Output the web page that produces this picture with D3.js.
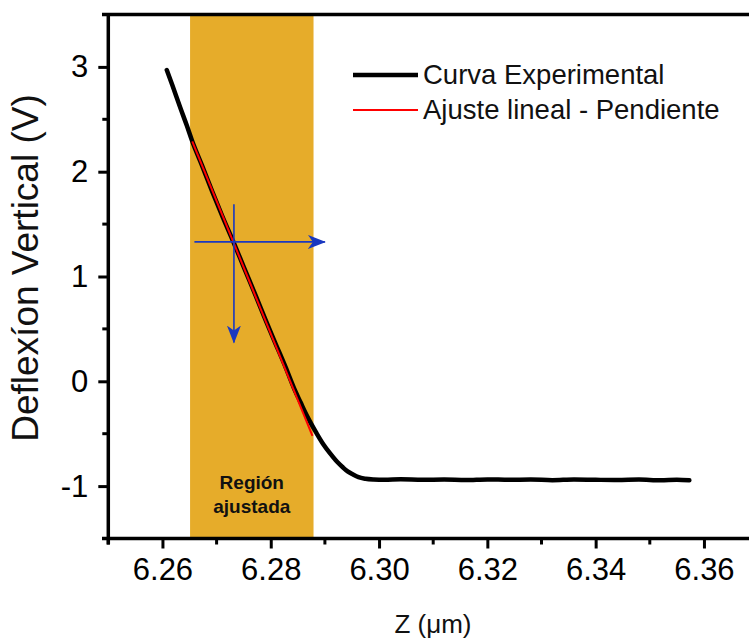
<!DOCTYPE html>
<html>
<head>
<meta charset="utf-8">
<script src="https://cdn.jsdelivr.net/npm/d3@7/dist/d3.min.js"></script>
<style>
  html, body { margin: 0; padding: 0; background: #ffffff; }
  svg { display: block; font-family: "Liberation Sans", Arial, sans-serif; }
</style>
</head>
<body>
<svg id="chart" width="749" height="639"></svg>
<script>
// ---- Data ----
const curveZ = [6.2608, 6.2618, 6.2633, 6.2645, 6.2655, 6.2673, 6.2692, 6.2711, 6.2731, 6.2751,
  6.2772, 6.2790, 6.2808, 6.2827, 6.2845, 6.2855, 6.2864, 6.2873, 6.2884, 6.2897, 6.2910,
  6.2923, 6.2933, 6.2942, 6.2952, 6.2962, 6.2975, 6.2990, 6.3010, 6.3040, 6.3080, 6.3120,
  6.3160, 6.3200, 6.3240, 6.3280, 6.3320, 6.3360, 6.3400, 6.3440, 6.3480, 6.3520, 6.3550, 6.3573];
const curveV = [2.97, 2.83, 2.61, 2.44, 2.29, 2.06, 1.81, 1.57, 1.33, 1.08,
  0.82, 0.59, 0.37, 0.14, -0.09, -0.20, -0.30, -0.39, -0.49, -0.60, -0.69,
  -0.77, -0.82, -0.86, -0.89, -0.915, -0.93, -0.937, -0.94, -0.935, -0.94, -0.938,
  -0.942, -0.936, -0.94, -0.938, -0.943, -0.937, -0.94, -0.942, -0.938, -0.944, -0.94, -0.945];
const fitZ = [6.2655, 6.2877];
const fitV = [2.29, -0.52];
const bandZ = [6.2651, 6.2879];
const xTicks = [6.26, 6.28, 6.30, 6.32, 6.34, 6.36];
const xMinor = [6.25, 6.27, 6.29, 6.31, 6.33, 6.35, 6.37];
const yTicks = [-1, 0, 1, 2, 3];
const yMinor = [-0.5, 0.5, 1.5, 2.5];
const legendLabels = ["Curva Experimental", "Ajuste lineal - Pendiente"];
const regionLabel = ["Región", "ajustada"];
// annotation arrows (data coordinates): [z1, v1, z2, v2]
const arrowH = [6.2659, 1.33, 6.2900, 1.33];
const arrowV = [6.2732, 1.69, 6.2732, 0.37];
const xTitle = "Z (\u03bcm)";
const yTitle = "Deflexíon Vertical (V)";

// ---- Layout ----
const svg = d3.select("#chart");
const x = d3.scaleLinear().domain([6.25, 6.37]).range([108.3, 108.3 + 0.12 * 5415]);
const y = d3.scaleLinear().domain([-1.5, 3.5]).range([538.5, 14.5]);
const W = 749;
const blue = "#1a38c0";

const defs = svg.append("defs");
defs.append("marker").attr("id", "ah").attr("viewBox", "0 0 18 14")
  .attr("refX", 17).attr("refY", 7).attr("markerWidth", 18).attr("markerHeight", 14)
  .attr("markerUnits", "userSpaceOnUse").attr("orient", "auto")
  .append("path").attr("d", "M0,0 L18,7 L0,14 L5,7 Z").attr("fill", blue);

// band
svg.append("rect")
  .attr("x", x(bandZ[0])).attr("y", y(3.5))
  .attr("width", x(bandZ[1]) - x(bandZ[0])).attr("height", y(-1.5) - y(3.5))
  .attr("fill", "#e6ac2a");

// region label
svg.append("text").attr("x", x((bandZ[0] + bandZ[1]) / 2)).attr("y", 489)
  .attr("text-anchor", "middle").attr("font-weight", "bold").attr("font-size", 19)
  .attr("fill", "#111").selectAll("tspan").data(regionLabel).join("tspan")
  .attr("x", x((bandZ[0] + bandZ[1]) / 2)).attr("dy", (d, i) => i === 0 ? 0 : 24).text(d => d);

// curve
const pts = curveZ.map((z, i) => [z, curveV[i]]);
const line = d3.line().x(d => x(d[0])).y(d => y(d[1])).curve(d3.curveMonotoneX);
svg.append("path").datum(pts).attr("d", line)
  .attr("fill", "none").attr("stroke", "#000").attr("stroke-width", 4.5)
  .attr("stroke-linejoin", "round").attr("stroke-linecap", "round");

// fit line
svg.append("line")
  .attr("x1", x(fitZ[0])).attr("y1", y(fitV[0]))
  .attr("x2", x(fitZ[1])).attr("y2", y(fitV[1]))
  .attr("stroke", "#ff0000").attr("stroke-width", 2);

// arrows
[arrowH, arrowV].forEach(a => {
  svg.append("line")
    .attr("x1", x(a[0])).attr("y1", y(a[1])).attr("x2", x(a[2])).attr("y2", y(a[3]))
    .attr("stroke", blue).attr("stroke-width", 1.6).attr("marker-end", "url(#ah)");
});

// axes
const axisColor = "#000";
const xAxisG = svg.append("g").attr("transform", `translate(0,${y(-1.5)})`);
xAxisG.call(d3.axisBottom(x).tickValues(xTicks).tickSize(10).tickSizeOuter(0)
  .tickFormat(d3.format(".2f")));
xAxisG.select(".domain").remove();
xAxisG.selectAll(".tick line").attr("stroke-width", 3);
xAxisG.selectAll(".tick text").attr("font-size", 31).attr("font-family", "Liberation Sans, Arial, sans-serif")
  .attr("dy", 0).attr("y", 41).attr("fill", "#000");
xAxisG.selectAll(".minor").data(xMinor.filter(v => x(v) < W)).join("line")
  .attr("x1", d => x(d)).attr("x2", d => x(d)).attr("y1", 0).attr("y2", 6)
  .attr("stroke", axisColor).attr("stroke-width", 3);
xAxisG.append("line").attr("x1", 102).attr("x2", W).attr("y1", 0).attr("y2", 0)
  .attr("stroke", axisColor).attr("stroke-width", 3.5);

const yAxisG = svg.append("g").attr("transform", `translate(${x(6.25)},0)`);
yAxisG.call(d3.axisLeft(y).tickValues(yTicks).tickSize(10).tickSizeOuter(0)
  .tickFormat(d => String(d)));
yAxisG.select(".domain").remove();
yAxisG.selectAll(".tick line").attr("stroke-width", 3);
yAxisG.selectAll(".tick text").attr("font-size", 31).attr("font-family", "Liberation Sans, Arial, sans-serif")
  .attr("x", -20).attr("fill", "#000");
yAxisG.selectAll(".minor").data(yMinor).join("line")
  .attr("x1", -6).attr("x2", 0).attr("y1", d => y(d)).attr("y2", d => y(d))
  .attr("stroke", axisColor).attr("stroke-width", 3);
yAxisG.append("line").attr("x1", 0).attr("x2", 0).attr("y1", y(3.5) - 1.5).attr("y2", y(-1.5) + 6)
  .attr("stroke", axisColor).attr("stroke-width", 3.5);

// top frame line
svg.append("line").attr("x1", 102).attr("x2", W).attr("y1", y(3.5)).attr("y2", y(3.5))
  .attr("stroke", axisColor).attr("stroke-width", 3.5);

// titles
svg.append("text").attr("x", 433).attr("y", 633).attr("text-anchor", "middle")
  .attr("font-size", 26).attr("fill", "#111").text(xTitle);
svg.append("text").attr("transform", "translate(38,268) rotate(-90)").attr("text-anchor", "middle")
  .attr("font-size", 37).attr("fill", "#111").text(yTitle);

// legend
const legColors = ["#000", "#ff0000"];
const legWidths = [4.5, 2];
legendLabels.forEach((lab, i) => {
  const ly = 75 + i * 35;
  svg.append("line").attr("x1", 353).attr("x2", 418).attr("y1", ly).attr("y2", ly)
    .attr("stroke", legColors[i]).attr("stroke-width", legWidths[i]);
  svg.append("text").attr("x", 423).attr("y", ly + 9).attr("font-size", 27.5)
    .attr("fill", "#111").text(lab);
});
</script>
</body>
</html>
